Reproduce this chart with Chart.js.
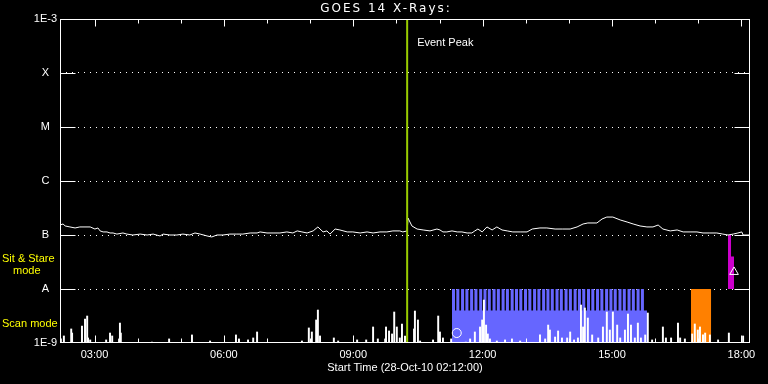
<!DOCTYPE html>
<html>
<head>
<meta charset="utf-8">
<script src="https://cdn.jsdelivr.net/npm/chart.js@4.4.0/dist/chart.umd.min.js"></script>
<style>
  html, body { margin: 0; padding: 0; background: #000; }
  #wrap { width: 768px; height: 384px; }
</style>
</head>
<body>
<div id="wrap"><canvas id="goes"></canvas></div>
<script>
// GOES 14 x-rays, 28-Oct-10, times in decimal hours UT
const xTickHours = [3, 6, 9, 12, 15, 18];
const yTickValues = [1e-9, 1e-8, 1e-7, 1e-6, 1e-5, 1e-4, 1e-3];
const yTickLabels = ["1E-9", "A", "B", "C", "M", "X", "1E-3"];

// long channel (1-8 A), flux in units of 1e-7 W/m2
const longTimes = [
  2.20, 2.27, 2.32, 2.43, 2.55, 2.66, 2.78, 2.90, 3.01, 3.08,
  3.13, 3.20, 3.29, 3.36, 3.43, 3.52, 3.66, 3.75, 3.89, 4.06,
  4.22, 4.36, 4.52, 4.59, 4.75, 4.91, 5.05, 5.21, 5.33, 5.45,
  5.61, 5.72, 5.84, 5.98, 6.14, 6.30, 6.44, 6.61, 6.77, 6.84,
  7.00, 7.14, 7.30, 7.46, 7.60, 7.70, 7.81, 7.93, 8.07, 8.18,
  8.30, 8.39, 8.46, 8.58, 8.69, 8.86, 8.99, 9.16, 9.32, 9.46,
  9.62, 9.78, 9.92, 10.08, 10.15, 10.25, 10.27, 10.36, 10.48, 10.62,
  10.78, 10.94, 11.01, 11.08, 11.17, 11.29, 11.41, 11.52, 11.64, 11.75,
  11.82, 11.89, 11.99, 12.10, 12.22, 12.33, 12.45, 12.57, 12.70, 12.87,
  13.03, 13.15, 13.33, 13.49, 13.68, 13.86, 14.03, 14.19, 14.33, 14.44,
  14.65, 14.77, 14.88, 15.02, 15.19, 15.35, 15.49, 15.65, 15.81, 15.95,
  16.07, 16.18, 16.35, 16.51, 16.65, 16.81, 16.97, 17.11, 17.27, 17.43,
  17.57, 17.69, 17.81, 17.92, 18.01, 18.04, 18.20
];
const longFlux = [
  1.53, 1.60, 1.47, 1.41, 1.35, 1.41, 1.41, 1.41, 1.29, 1.35,
  1.19, 1.14, 1.14, 1.09, 1.09, 1.04, 1.09, 1.04, 1.00, 1.04,
  1.00, 1.04, 0.96, 1.04, 1.00, 1.00, 1.04, 1.00, 1.09, 1.04,
  0.96, 0.92, 1.00, 1.00, 1.04, 1.04, 1.04, 1.09, 1.09, 1.14,
  1.09, 1.09, 1.09, 1.14, 1.09, 1.19, 1.14, 1.09, 1.19, 1.41,
  1.14, 1.19, 1.04, 1.29, 1.24, 1.14, 1.14, 1.09, 1.14, 1.09,
  1.14, 1.14, 1.19, 1.19, 1.14, 1.19, 2.06, 1.47, 1.29, 1.24,
  1.19, 1.29, 1.24, 1.14, 1.14, 1.19, 1.14, 1.14, 1.09, 1.09,
  1.19, 1.29, 1.14, 1.41, 1.24, 1.41, 1.24, 1.19, 1.14, 1.14,
  1.14, 1.29, 1.35, 1.35, 1.29, 1.29, 1.29, 1.41, 1.60, 1.67,
  1.67, 1.98, 2.15, 2.15, 1.90, 1.74, 1.60, 1.47, 1.41, 1.41,
  1.53, 1.29, 1.19, 1.24, 1.14, 1.14, 1.14, 1.09, 1.09, 1.09,
  1.04, 1.00, 1.04, 1.09, 1.14, 1.00, 1.00
];

// short channel (0.5-4 A) spikes above the floor, flux in units of 1e-9 W/m2
const shortTimes = [
  2.22, 2.29, 2.46, 2.48, 2.71, 2.78, 2.83, 2.85, 2.90, 3.27,
  3.36, 3.41, 3.57, 3.59, 3.61, 4.33, 4.73, 5.26, 5.68, 6.28,
  6.35, 6.56, 6.68, 6.77, 7.81, 7.97, 8.04, 8.14, 8.18, 8.23,
  8.55, 8.65, 9.09, 9.30, 9.46, 9.57, 9.74, 9.76, 9.83, 9.90,
  9.95, 10.01, 10.08, 10.13, 10.20, 10.41, 10.43, 10.50, 10.55, 10.85,
  10.97, 11.01, 11.08, 11.27, 11.61, 11.71, 11.82, 11.94, 11.99, 12.03,
  12.08, 12.12, 12.17, 12.33, 12.52, 12.68, 12.87, 13.33, 13.45, 13.52,
  13.56, 13.68, 13.75, 13.84, 13.96, 14.03, 14.12, 14.21, 14.28, 14.33,
  14.37, 14.44, 14.54, 14.68, 14.79, 14.88, 14.95, 15.02, 15.12, 15.19,
  15.30, 15.37, 15.44, 15.53, 15.60, 15.67, 15.77, 15.83, 15.93, 16.18,
  16.25, 16.37, 16.53, 16.58, 16.69, 16.86, 16.92, 16.99, 17.04, 17.11,
  17.16, 17.27, 17.46, 17.71, 18.04
];
const shortFlux = [
  1.19, 1.35, 1.82, 1.53, 2.06, 2.78, 3.16, 1.24, 1.14, 1.14,
  1.53, 1.35, 1.19, 2.34, 1.53, 1.04, 1.19, 1.41, 1.09, 1.41,
  1.19, 1.14, 1.24, 1.60, 1.09, 1.90, 1.60, 2.67, 4.08, 1.35,
  1.24, 1.09, 1.14, 1.14, 1.98, 1.19, 1.19, 1.98, 1.67, 1.47,
  3.75, 1.98, 1.24, 2.25, 1.35, 1.82, 3.91, 2.67, 1.09, 1.14,
  3.16, 1.60, 1.24, 1.19, 1.04, 1.19, 1.60, 1.98, 2.67, 6.25,
  2.15, 1.47, 1.19, 1.09, 1.14, 1.19, 1.09, 1.41, 1.19, 2.15,
  1.74, 1.29, 1.67, 1.24, 1.24, 1.60, 1.14, 1.24, 5.05, 1.98,
  4.45, 2.90, 1.41, 1.24, 1.98, 3.75, 1.74, 3.75, 2.15, 1.24,
  1.74, 3.44, 2.15, 1.24, 2.34, 1.24, 1.41, 3.59, 1.14, 1.98,
  1.24, 1.24, 2.34, 1.24, 1.19, 1.47, 2.25, 1.74, 1.98, 1.41,
  1.53, 1.41, 1.14, 1.53, 1.35
];

const eventPeak = 10.25;

// scan mode: start of each scan, scan length in hours, levels of the band
const scanStarts = [
  11.29, 11.39, 11.50, 11.60, 11.71, 11.81, 11.92, 12.02, 12.12, 12.23,
  12.33, 12.44, 12.54, 12.65, 12.75, 12.85, 12.96, 13.06, 13.17, 13.27,
  13.38, 13.48, 13.58, 13.69, 13.79, 13.90, 14.00, 14.11, 14.21, 14.31,
  14.42, 14.52, 14.63, 14.73, 14.84, 14.94, 15.04, 15.15, 15.25, 15.36,
  15.46, 15.57, 15.67
];
const scanLength = 0.07;
const scanEnd = 15.81;
const scanTop = 1e-8;
const scanFloor = 4e-9;

// sit & stare blocks
const orangeTimes = [16.83, 17.30];
const orangeFlux = [1e-8, 1e-8];
const magentaTimes = [17.69, 17.76, 17.83];
const magentaFlux = [1e-7, 4e-8, 4e-8];

const markCircle = { x: 11.40, y: 1.53e-9 };
const markTriangle = { x: 17.83, y: 2.07e-8 };

const font = { family: "Liberation Sans", size: 11 };

const scanData = [];
scanStarts.forEach((s) => {
  scanData.push({ x: s, y: scanTop });
  scanData.push({ x: s + scanLength, y: scanFloor });
});
scanData.push({ x: scanEnd, y: scanFloor });

const frame = {
  id: "frame",
  afterDatasetsDraw(chart) {
    const { ctx, chartArea: a, scales } = chart;
    const x = scales.x, y = scales.y;
    ctx.save();
    ctx.strokeStyle = "#fff";
    ctx.lineWidth = 1;
    const L = Math.round(a.left) + 0.5, R = Math.round(a.right) - 0.5;
    const T = Math.round(a.top) + 0.5, B = Math.round(a.bottom) - 0.5;
    ctx.strokeRect(L, T, R - L, B - T);
    ctx.beginPath();
    yTickValues.slice(1, -1).forEach((v) => {
      const py = Math.round(y.getPixelForValue(v)) + 0.5;
      ctx.moveTo(L, py); ctx.lineTo(L + 15, py);
      ctx.moveTo(R - 15, py); ctx.lineTo(R, py);
    });
    for (let h = Math.ceil(x.min); h <= Math.floor(x.max); h++) {
      const px = Math.round(x.getPixelForValue(h)) + 0.5;
      const len = h % 3 === 0 ? 7 : 4;
      ctx.moveTo(px, T); ctx.lineTo(px, T + len);
      ctx.moveTo(px, B); ctx.lineTo(px, B - len);
    }
    ctx.stroke();

    ctx.fillStyle = "#fff";
    ctx.textBaseline = "middle";
    ctx.font = "12px 'DejaVu Sans'";
    ctx.textAlign = "center";
    ctx.letterSpacing = "2px";
    ctx.fillText("GOES 14 X-Rays:", 386, 9);
    ctx.letterSpacing = "0px";
    ctx.font = "11px 'Liberation Sans'";
    ctx.textAlign = "left";
    ctx.fillText("Event Peak", x.getPixelForValue(eventPeak) + 10, 43);
    ctx.fillStyle = "#ffff00";
    ctx.fillText("Sit & Stare", 2, 259);
    ctx.fillText("mode", 13, 271);
    ctx.fillText("Scan mode", 2, 324);
    ctx.restore();
  },
};

new Chart(document.getElementById("goes"), {
  type: "line",
  data: {
    datasets: [
      {
        label: "Event Peak",
        data: [{ x: eventPeak, y: 1e-9 }, { x: eventPeak, y: 1e-3 }],
        borderColor: "#99cc00",
        borderWidth: 2,
        pointRadius: 0,
        order: 1,
      },
      {
        label: "Long",
        data: longTimes.map((t, i) => ({ x: t, y: longFlux[i] * 1e-7 })),
        borderColor: "#fff",
        borderWidth: 1,
        pointRadius: 0,
        tension: 0,
        order: 2,
      },
      {
        type: "bar",
        label: "Short",
        data: shortTimes.map((t, i) => ({ x: t, y: shortFlux[i] * 1e-9 })),
        backgroundColor: "#fff",
        borderWidth: 0,
        barThickness: 1.3,
        order: 3,
      },
      {
        label: "Scan",
        data: scanData,
        stepped: "before",
        fill: "start",
        backgroundColor: "#6666ff",
        borderColor: "rgba(0,0,0,0)",
        pointRadius: 0,
        order: 5,
      },
      {
        label: "Stare",
        data: orangeTimes.map((t, i) => ({ x: t, y: orangeFlux[i] })),
        stepped: "before",
        fill: "start",
        backgroundColor: "#ff8000",
        borderColor: "rgba(0,0,0,0)",
        pointRadius: 0,
        order: 5,
      },
      {
        label: "Stare2",
        data: magentaTimes.map((t, i) => ({ x: t, y: magentaFlux[i] })),
        stepped: "before",
        fill: { value: 1e-8 },
        backgroundColor: "#cc00cc",
        borderColor: "rgba(0,0,0,0)",
        pointRadius: 0,
        order: 5,
      },
      {
        label: "Marks",
        data: [markCircle, markTriangle],
        showLine: false,
        pointStyle: ["circle", "triangle"],
        pointRadius: [4.5, 5],
        borderColor: "#fff",
        backgroundColor: "rgba(0,0,0,0)",
        borderWidth: 1,
        order: 0,
      },
    ],
  },
  options: {
    responsive: true,
    maintainAspectRatio: false,
    animation: false,
    layout: { padding: { top: 19, right: 18, left: 0, bottom: 0 } },
    plugins: {
      legend: { display: false },
      tooltip: { enabled: false },
    },
    scales: {
      x: {
        type: "linear",
        min: 2.2,
        max: 18.2,
        offset: false,
        grid: { display: false, drawTicks: false },
        border: { display: false },
        afterBuildTicks: (s) => { s.ticks = xTickHours.map((v) => ({ value: v })); },
        afterFit: (s) => { s.height = 41; },
        ticks: {
          color: "#fff",
          font: font,
          padding: 5,
          maxRotation: 0,
          autoSkip: false,
          callback: (v) => String(v).padStart(2, "0") + ":00",
        },
        title: {
          display: true,
          text: "Start Time (28-Oct-10 02:12:00)",
          color: "#fff",
          font: font,
          padding: { top: 0, bottom: 9 },
        },
      },
      y: {
        type: "logarithmic",
        min: 1e-9,
        max: 1e-3,
        afterBuildTicks: (s) => { s.ticks = yTickValues.map((v) => ({ value: v })); },
        afterFit: (s) => { s.width = 60; },
        grid: {
          drawTicks: false,
          lineWidth: 1,
          color: (c) => (c.tick && c.tick.value > 1e-9 && c.tick.value < 1e-3 ? "#fff" : "rgba(0,0,0,0)"),
        },
        border: { display: false, dash: [1, 5] },
        ticks: {
          color: "#fff",
          font: font,
          padding: 3,
          crossAlign: "center",
          callback: (v, i) => yTickLabels[i],
        },
      },
    },
  },
  plugins: [frame],
});
</script>
</body>
</html>
